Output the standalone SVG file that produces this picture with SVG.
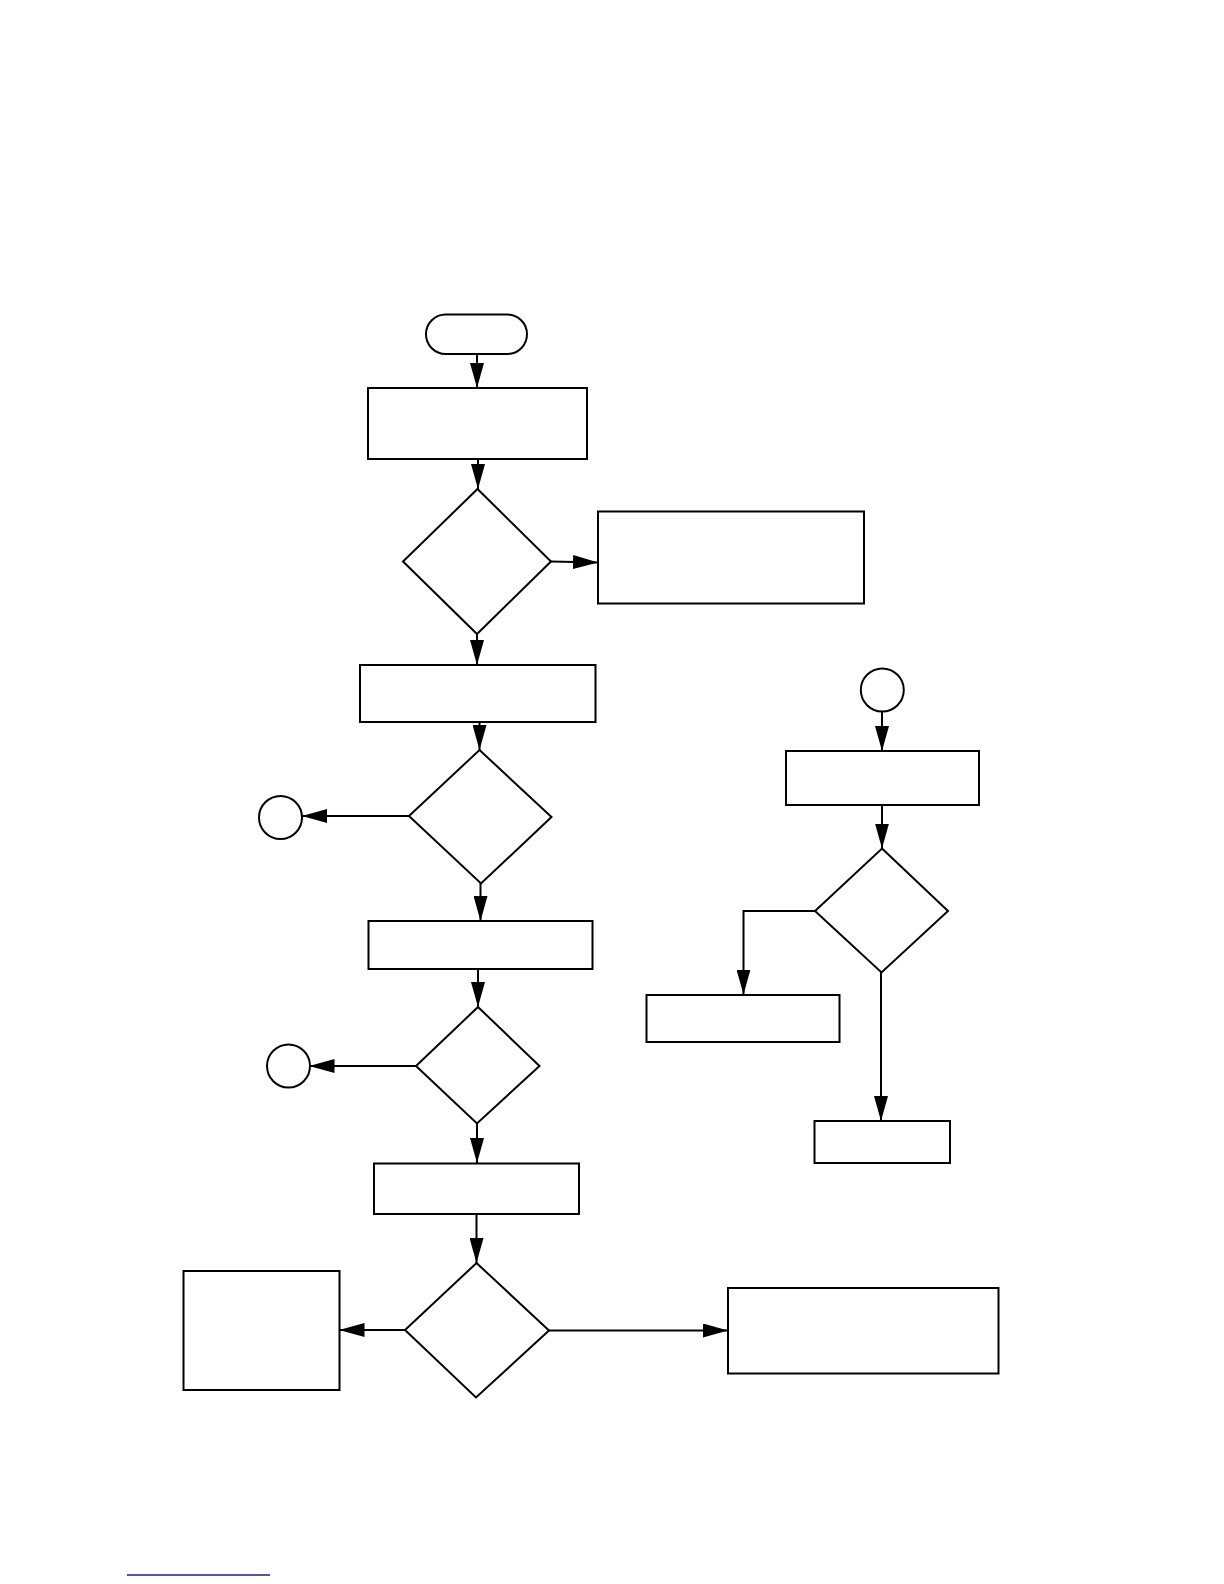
<svg xmlns="http://www.w3.org/2000/svg" width="1224" height="1584" viewBox="0 0 1224 1584">
<style>
.n{fill:#fff;stroke:#000;stroke-width:2}
.c{fill:none;stroke:#000;stroke-width:2}
</style>
<defs>
<marker id="ah" markerUnits="userSpaceOnUse" markerWidth="25" markerHeight="14" refX="25" refY="7" orient="auto">
<path d="M0,0 L25,7 L0,14 z" fill="#000"/>
</marker>
</defs>
<rect width="1224" height="1584" fill="#fff"/>
<g id="connectors">
<path class="c" d="M477,354 V388" marker-end="url(#ah)"/>
<path class="c" d="M478,459 V489" marker-end="url(#ah)"/>
<path class="c" d="M551,561.5 L598,562.5" marker-end="url(#ah)"/>
<path class="c" d="M477,634 V665" marker-end="url(#ah)"/>
<path class="c" d="M479.5,722 V750" marker-end="url(#ah)"/>
<path class="c" d="M409,816 H302" marker-end="url(#ah)"/>
<path class="c" d="M480.5,883 V921" marker-end="url(#ah)"/>
<path class="c" d="M478,969 V1007" marker-end="url(#ah)"/>
<path class="c" d="M416,1066 H309.5" marker-end="url(#ah)"/>
<path class="c" d="M477,1123 V1163" marker-end="url(#ah)"/>
<path class="c" d="M476.5,1214 V1263" marker-end="url(#ah)"/>
<path class="c" d="M405,1330 H339.5" marker-end="url(#ah)"/>
<path class="c" d="M549,1330.5 H728" marker-end="url(#ah)"/>
<path class="c" d="M882,711.5 V751" marker-end="url(#ah)"/>
<path class="c" d="M882,805 V848.5" marker-end="url(#ah)"/>
<path class="c" d="M815,911 H743.5 V994.5" marker-end="url(#ah)"/>
<path class="c" d="M881,972 V1121" marker-end="url(#ah)"/>
</g>
<g id="start"><rect class="n" x="426" y="314.5" width="101" height="39.5" rx="19.75"/></g>
<g id="box1"><rect class="n" x="368" y="388" width="219" height="71"/></g>
<g id="dec1"><polygon class="n" points="477.5,489 551,561.5 477,634 403,561.5"/></g>
<g id="box2"><rect class="n" x="598" y="511.5" width="266" height="92"/></g>
<g id="box3"><rect class="n" x="360" y="665" width="235.5" height="57"/></g>
<g id="dec2"><polygon class="n" points="479.5,750 551.5,817 481,883.5 409,816"/></g>
<g id="conn1"><circle class="n" cx="280.5" cy="817.5" r="21.5"/></g>
<g id="box4"><rect class="n" x="368.5" y="921" width="224" height="48"/></g>
<g id="dec3"><polygon class="n" points="478,1007 539.5,1066 477,1123.5 416,1066"/></g>
<g id="conn2"><circle class="n" cx="288.5" cy="1066" r="21.5"/></g>
<g id="box5"><rect class="n" x="374" y="1163.5" width="205" height="50.5"/></g>
<g id="dec4"><polygon class="n" points="476.5,1263 549,1330.5 476,1397.5 405,1330"/></g>
<g id="box6"><rect class="n" x="183.5" y="1271" width="156" height="119"/></g>
<g id="box7"><rect class="n" x="728" y="1288" width="270.5" height="85.5"/></g>
<g id="conn3"><circle class="n" cx="882.3" cy="690" r="21.5"/></g>
<g id="box8"><rect class="n" x="786" y="751" width="193" height="54"/></g>
<g id="dec5"><polygon class="n" points="882,848.5 948,911 881.5,972.5 815,911"/></g>
<g id="box9"><rect class="n" x="646.5" y="995" width="193" height="47"/></g>
<g id="box10"><rect class="n" x="814.5" y="1121" width="135.5" height="42"/></g>
<line x1="127" y1="1575" x2="270" y2="1575" stroke="#1a1a9e" stroke-width="1.5"/>
</svg>
